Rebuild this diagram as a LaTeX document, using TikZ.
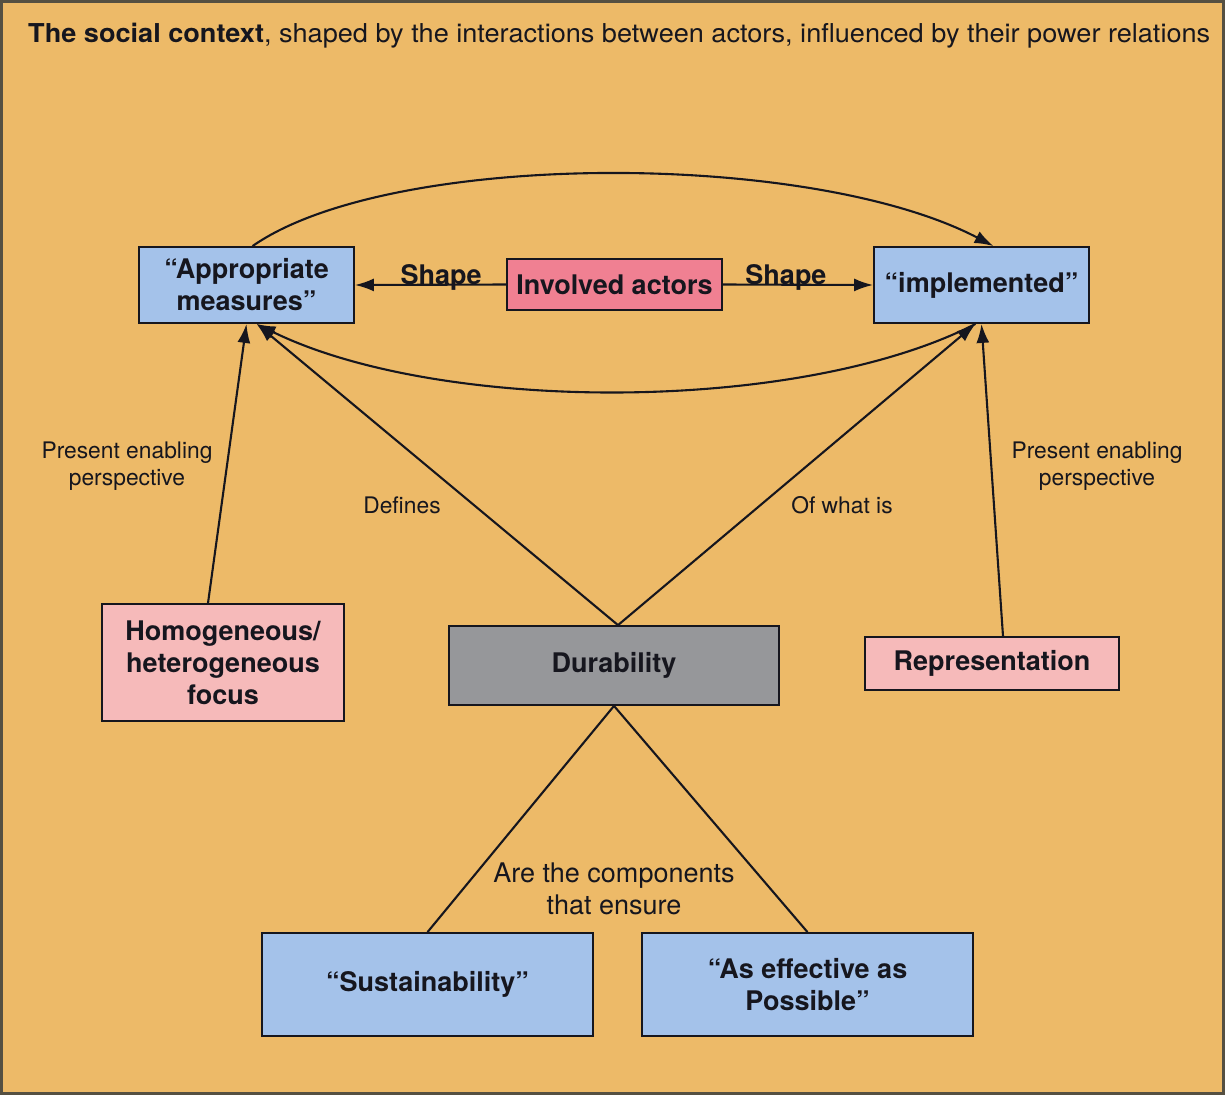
\documentclass[tikz,border=0pt]{standalone}
\usepackage{fontspec}
\setmainfont{TeX Gyre Heros}
\usetikzlibrary{arrows.meta}
\definecolor{bgorange}{RGB}{237,186,104}
\definecolor{frameline}{RGB}{85,80,66}
\definecolor{boxblue}{RGB}{164,194,234}
\definecolor{boxrose}{RGB}{240,128,146}
\definecolor{boxpink}{RGB}{246,186,186}
\definecolor{boxgray}{RGB}{150,151,154}
\definecolor{inkdark}{RGB}{22,22,30}
\tikzset{
  box/.style={draw=inkdark, line width=1.8pt, inner sep=0pt, align=center,
    text=inkdark, font=\fontsize{27}{32}\selectfont\bfseries},
  bluebox/.style={box, fill=boxblue},
  rosebox/.style={box, fill=boxrose},
  pinkbox/.style={box, fill=boxpink},
  graybox/.style={box, fill=boxgray},
  link/.style={draw=inkdark, line width=2.1pt},
  arrowlink/.style={link, -{Latex[length=19pt,width=13pt]}},
  smalllabel/.style={text=inkdark, align=center, inner sep=0pt,
    font=\fontsize{22.8}{27}\selectfont},
  biglabel/.style={text=inkdark, align=center, inner sep=0pt,
    font=\fontsize{27}{32}\selectfont},
  shapelabel/.style={text=inkdark, inner sep=0pt, anchor=base,
    font=\fontsize{27}{30}\selectfont\bfseries}
}
\begin{document}
\begin{tikzpicture}[x=1pt,y=-1pt]
  % background and frame
  \path[use as bounding box] (0,0) rectangle (1225,1095);
  \draw[fill=bgorange, draw=frameline, line width=2.6pt] (1.3,1.3) rectangle (1223.7,1093.7);

  % heading
  \node[anchor=west, inner sep=0pt, text=inkdark] (title) at (28,36)
    {\resizebox{1182pt}{\height}{\fontsize{26}{30}\selectfont\textbf{The social context}, shaped by the interactions between actors, influenced by their power relations}};

  % boxes
  \node[bluebox, minimum width=215pt, minimum height=76pt] (app) at (246.5,285) {“Appropriate\\measures”};
  \node[rosebox, minimum width=215pt, minimum height=51pt] (act) at (614.5,284.5) {Involved actors};
  \node[bluebox, minimum width=215pt, minimum height=76pt] (impl) at (981.5,285) {“implemented”};
  \node[pinkbox, minimum width=242pt, minimum height=117pt] (hom) at (223,662.5) {Homogeneous/\\heterogeneous\\focus};
  \node[graybox, minimum width=330pt, minimum height=79pt] (dur) at (614,665.5) {Durability};
  \node[pinkbox, minimum width=254pt, minimum height=53pt] (rep) at (992,663.5) {Representation};
  \node[bluebox, minimum width=331pt, minimum height=103pt] (sus) at (427.5,984.5) {“Sustainability”};
  \node[bluebox, minimum width=331pt, minimum height=103pt] (eff) at (807.5,984.5) {“As effective as\\Possible”};

  % actors shape both ends
  \draw[arrowlink] (act.west) -- node[shapelabel, pos=0.43] {Shape} (app.east);
  \draw[arrowlink] (act.east) -- node[shapelabel, pos=0.42] {Shape} (impl.west);

  % loop between the two ends
  \draw[arrowlink] ([xshift=6pt]app.north) .. controls (390,150) and (810,150) .. ([xshift=12pt]impl.north);
  \draw[arrowlink] ([xshift=-6pt]impl.south) .. controls (800,414) and (440,414) .. ([xshift=10pt]app.south);

  % perspectives
  \draw[arrowlink] ([xshift=-15pt]hom.north) -- (app.south);
  \draw[arrowlink] ([xshift=11pt]rep.north) -- (impl.south);

  % durability links
  \draw[arrowlink] ([xshift=4pt]dur.north) -- ([xshift=10pt]app.south);
  \draw[arrowlink] ([xshift=4pt]dur.north) -- ([xshift=-6pt]impl.south);
  \draw[link] (dur.south) -- (sus.north);
  \draw[link] (dur.south) -- (eff.north);

  % labels
  \node[smalllabel] (pl) at (127,466) {Present enabling\\perspective};
  \node[smalllabel] (pr) at (1097,466) {Present enabling\\perspective};
  \node[smalllabel] (def) at (402,505) {Defines};
  \node[smalllabel] (ofw) at (842,505) {Of what is};
  \node[biglabel] (comp) at (614,889) {Are the components\\that ensure};
\end{tikzpicture}
\end{document}
